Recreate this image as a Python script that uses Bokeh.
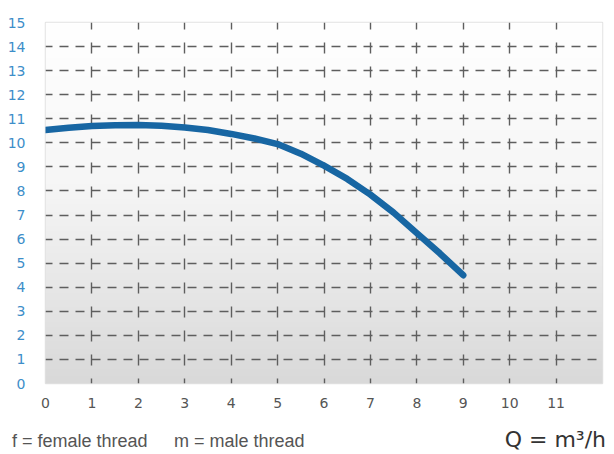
import numpy as np
from bokeh.plotting import figure
from bokeh.layouts import column
from bokeh.models import FixedTicker, ColumnDataSource, Div
from bokeh.embed import file_html
from bokeh.resources import INLINE

# Data
flow = [0, 0.5, 1, 1.5, 2, 2.5, 3, 3.5, 4, 4.5, 5, 5.5, 6, 6.5, 7, 7.5, 8, 8.5, 9]
head = [10.53, 10.63, 10.70, 10.73, 10.74, 10.71, 10.64, 10.53, 10.37, 10.18, 9.95,
        9.55, 9.05, 8.5, 7.85, 7.1, 6.25, 5.4, 4.5]
x_ticks = list(range(0, 12))
y_ticks = list(range(0, 16))
x_grid = list(range(1, 12))
y_grid = list(range(1, 15))
footer_f = "f = female thread"
footer_m = "m = male thread"
footer_q = "Q = m³/h"

FONT = "DejaVu Sans"

p = figure(width=612, height=411, x_range=(0, 12), y_range=(0, 15),
           output_backend="svg", toolbar_location=None,
           min_border_left=45, min_border_right=10, min_border_top=22,
           min_border_bottom=28)
p.background_fill_color = "white"
p.border_fill_color = "white"
p.outline_line_color = "#e2e2e2"
p.outline_line_width = 1.5

# gradient background (white at top to light gray at bottom)
n = 200
t = np.linspace(0, 1, n)  # 0 bottom -> 1 top
gray = np.where(t < 0.55, 217 + (246 - 217) * (t / 0.55), 246 + (255 - 246) * ((t - 0.55) / 0.45))
img = np.zeros((n, 1), dtype=np.uint32)
view = img.view(dtype=np.uint8).reshape((n, 1, 4))
view[:, 0, 0] = gray.astype(np.uint8)
view[:, 0, 1] = gray.astype(np.uint8)
view[:, 0, 2] = gray.astype(np.uint8)
view[:, 0, 3] = 255
p.image_rgba(image=[img], x=0, y=0, dw=12, dh=15, level="image")

# grid
p.xgrid.ticker = FixedTicker(ticks=x_grid)
p.ygrid.ticker = FixedTicker(ticks=y_grid)
p.xgrid.grid_line_color = "#5e5e5e"
p.xgrid.grid_line_width = 1.4
p.xgrid.grid_line_dash = "11 13"
p.xgrid.grid_line_dash_offset = 6
p.ygrid.grid_line_color = "#5e5e5e"
p.ygrid.grid_line_width = 1.4
p.ygrid.grid_line_dash = "9 7"
p.ygrid.grid_line_dash_offset = 2
p.xgrid.level = "underlay"
p.ygrid.level = "underlay"

# axes
for ax in (p.xaxis, p.yaxis):
    ax.axis_line_color = None
    ax.major_tick_line_color = None
    ax.minor_tick_line_color = None
    ax.major_label_text_font = FONT
    ax.major_label_text_font_size = "14px"
p.xaxis.ticker = FixedTicker(ticks=x_ticks)
p.yaxis.ticker = FixedTicker(ticks=y_ticks)
p.xaxis.major_label_text_color = "#555555"
p.yaxis.major_label_text_color = "#3d8ec9"
p.xaxis.major_label_standoff = 8
p.yaxis.major_label_standoff = 14

# curve
src = ColumnDataSource(dict(x=flow, y=head))
p.line("x", "y", source=src, line_color="#1766a3", line_width=6.5, line_cap="round")

# footer
footer_html = (
    '<div style="position:relative;width:612px;height:41px;">'
    '<span style="position:absolute;left:7px;top:16px;font-family:\'Liberation Sans\';'
    'font-size:18px;line-height:18px;color:#555555;white-space:nowrap;">' + footer_f + '</span>'
    '<span style="position:absolute;left:169px;top:16px;font-family:\'Liberation Sans\';'
    'font-size:18px;line-height:18px;color:#555555;white-space:nowrap;">' + footer_m + '</span>'
    '<span style="position:absolute;right:11px;top:13px;font-family:\'DejaVu Sans\';'
    'font-size:22px;line-height:22px;color:#333333;white-space:nowrap;">' + footer_q + '</span>'
    '</div>'
)
footer = Div(text=footer_html, width=612, height=41, styles={"overflow": "hidden"})

layout = column(p, footer, spacing=0)
open("out.html", "w").write(file_html(layout, INLINE))
